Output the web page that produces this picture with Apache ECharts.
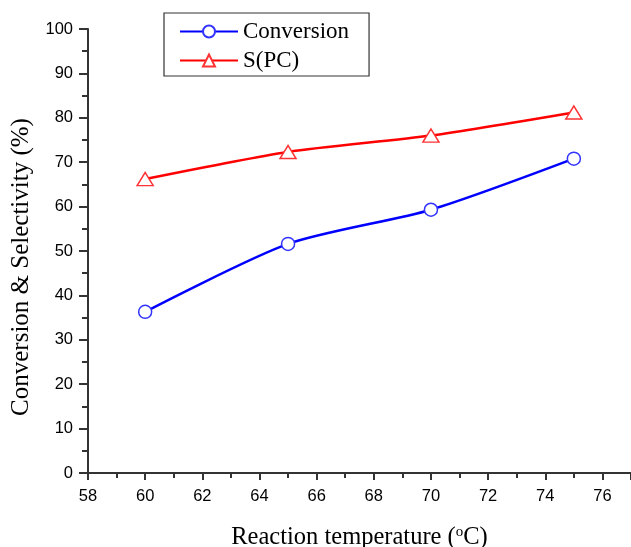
<!DOCTYPE html>
<html>
<head>
<meta charset="utf-8">
<script src="https://cdn.jsdelivr.net/npm/echarts@6/dist/echarts.min.js"></script>
<style>
  html, body { margin: 0; padding: 0; background: #fff; }
  #chart { width: 631px; height: 547px; }
</style>
</head>
<body>
<div id="chart"></div>
<script>
// Reaction temperature (°C)
const temperatures = [60, 65, 70, 75];
// Conversion (%)
const conversion = [36.3, 51.6, 59.3, 70.8];
// Selectivity to PC (%)
const selectivityPC = [66.2, 72.3, 76.0, 81.2];

const serif = '"Liberation Serif", "Times New Roman", serif';
const sans = '"Liberation Sans", Arial, sans-serif';
const axisColor = '#333';

const chart = echarts.init(document.getElementById('chart'));
chart.setOption({
  animation: false,
  backgroundColor: '#fff',
  grid: { left: 88, right: 0, top: 29, bottom: 74, outerBoundsMode: 'none', containLabel: false },
  legend: {
    left: 164, top: 13,
    orient: 'vertical',
    itemWidth: 58, itemHeight: 15, itemGap: 6,
    padding: [7, 20, 4, 15],
    borderColor: '#333', borderWidth: 1.2,
    textStyle: { fontFamily: serif, fontSize: 23, color: '#000' },
    data: ['Conversion', 'S(PC)']
  },
  xAxis: {
    type: 'value', min: 58, max: 77, interval: 2,
    name: '{n|Reaction temperature (}{s|o}{n|C)}',
    nameLocation: 'middle', nameGap: 52,
    nameTextStyle: {
      rich: {
        n: { fontFamily: serif, fontSize: 24.5, color: '#000' },
        s: { fontFamily: serif, fontSize: 15, color: '#000', verticalAlign: 'top', padding: [0, 0, 11, 0] }
      }
    },
    axisLine: { lineStyle: { color: axisColor, width: 2 } },
    axisTick: { length: 7, lineStyle: { color: axisColor, width: 2 } },
    minorTick: { show: true, splitNumber: 2, length: 5, lineStyle: { color: axisColor, width: 2 } },
    axisLabel: {
      color: '#000', fontFamily: sans, fontSize: 16.5, margin: 15,
      formatter: v => (v % 2 === 0 ? String(v) : '')
    },
    splitLine: { show: false }
  },
  yAxis: {
    type: 'value', min: 0, max: 100, interval: 10,
    name: 'Conversion & Selectivity (%)',
    nameLocation: 'middle', nameGap: 54,
    nameTextStyle: { fontFamily: serif, fontSize: 25, color: '#000', padding: [0, 32, 0, 0] },
    axisLine: { show: true, lineStyle: { color: axisColor, width: 2 } },
    axisTick: { show: true, length: 9, lineStyle: { color: axisColor, width: 2 } },
    minorTick: { show: true, splitNumber: 2, length: 6, lineStyle: { color: axisColor, width: 2 } },
    axisLabel: { color: '#000', fontFamily: sans, fontSize: 16.5, margin: 15 },
    splitLine: { show: false }
  },
  series: [
    {
      name: 'Conversion', type: 'line', smooth: 0.25,
      data: temperatures.map((t, i) => [t, conversion[i]]),
      symbol: 'circle', symbolSize: 13,
      lineStyle: { color: '#0000ff', width: 2.5 },
      itemStyle: { color: '#fff', borderColor: '#3333ff', borderWidth: 1.5 },
      z: 3
    },
    {
      name: 'S(PC)', type: 'line', smooth: 0.25,
      data: temperatures.map((t, i) => [t, selectivityPC[i]]),
      symbol: 'triangle', symbolSize: [16, 13],
      lineStyle: { color: '#ff0000', width: 2.5 },
      itemStyle: { color: '#fff', borderColor: '#ff3333', borderWidth: 1.5 },
      z: 3
    }
  ]
});
</script>
</body>
</html>
